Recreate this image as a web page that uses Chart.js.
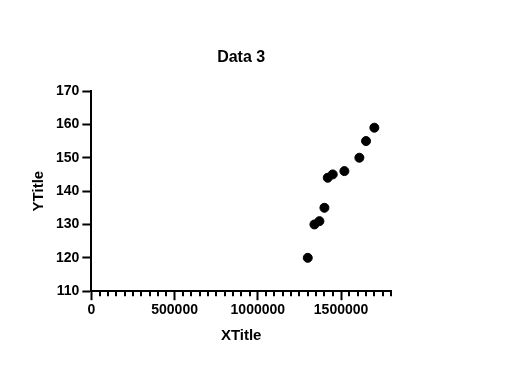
<!doctype html>
<html lang="en">
<head>
  <meta charset="utf-8" />
  <title>Data 3</title>
  <script src="https://cdn.jsdelivr.net/npm/chart.js"></script>
  <style>
    html, body { margin: 0; padding: 0; background: #fff; }
    .box { width: 525px; height: 369px; position: relative; }
  </style>
</head>
<body>
  <div class="box"><canvas id="chart"></canvas></div>
  <script>
    // values
    const xValues = [1300000, 1340000, 1370000, 1400000, 1420000, 1450000, 1520000, 1610000, 1650000, 1700000];
    const yValues = [120, 130, 131, 135, 144, 145, 146, 150, 155, 159];
    const xMajorStep = 500000;
    const xMinorStep = 50000;
    const xMax = 1800000;
    const yMin = 110;
    const yMax = 170;
    const yStep = 10;
    const chartTitle = 'Data 3';

    const family = "'Liberation Sans', Arial, sans-serif";
    const font = { family, weight: 'bold' };

    // short minor ticks under the x axis, title centred over the plot
    const extras = {
      id: 'extras',
      afterDraw(chart) {
        const x = chart.scales.x;
        const ctx = chart.ctx;
        ctx.save();
        ctx.strokeStyle = '#000';
        ctx.lineWidth = 2;
        for (let v = 0; v <= xMax; v += xMinorStep) {
          if (v % xMajorStep === 0) continue;
          const px = Math.round(x.getPixelForValue(v));
          ctx.beginPath();
          ctx.moveTo(px, x.top);
          ctx.lineTo(px, x.top + 5);
          ctx.stroke();
        }
        const a = chart.chartArea;
        ctx.fillStyle = '#000';
        ctx.font = "bold 16px " + family;
        ctx.textAlign = 'center';
        ctx.textBaseline = 'middle';
        ctx.fillText(chartTitle, (a.left + a.right) / 2, 58);
        ctx.restore();
      }
    };

    new Chart(document.getElementById('chart'), {
      type: 'scatter',
      data: {
        datasets: [{
          data: xValues.map((x, i) => ({ x, y: yValues[i] })),
          backgroundColor: '#000',
          borderColor: '#000',
          pointRadius: 4.5,
          pointHoverRadius: 4.5
        }]
      },
      options: {
        responsive: true,
        maintainAspectRatio: false,
        animation: false,
        layout: { padding: { left: 30, right: 134, top: 91, bottom: 20 } },
        plugins: {
          legend: { display: false },
          tooltip: { enabled: false },
          title: { display: false }
        },
        scales: {
          x: {
            type: 'linear',
            min: 0,
            max: xMax,
            border: { color: '#000', width: 2 },
            grid: {
              drawOnChartArea: false,
              tickLength: 9,
              tickWidth: 2,
              tickColor: (c) => (c.tick && c.tick.value % xMajorStep === 0 ? '#000' : 'rgba(0,0,0,0)')
            },
            ticks: {
              stepSize: xMinorStep,
              autoSkip: false,
              maxRotation: 0,
              color: '#000',
              font: { ...font, size: 14 },
              padding: 2,
              callback: (v) => (v % xMajorStep === 0 ? String(v) : '')
            },
            title: {
              display: true,
              text: 'XTitle',
              color: '#000',
              font: { ...font, size: 15 },
              padding: { top: 6 }
            }
          },
          y: {
            min: yMin,
            max: yMax,
            border: { color: '#000', width: 2 },
            grid: { drawOnChartArea: false, tickLength: 9, tickWidth: 2, tickColor: '#000' },
            ticks: {
              stepSize: yStep,
              color: '#000',
              font: { ...font, size: 14 },
              padding: 3
            },
            title: {
              display: true,
              text: 'YTitle',
              color: '#000',
              font: { ...font, size: 15 },
              padding: { top: 0, bottom: 5 }
            }
          }
        }
      },
      plugins: [extras]
    });
  </script>
</body>
</html>
